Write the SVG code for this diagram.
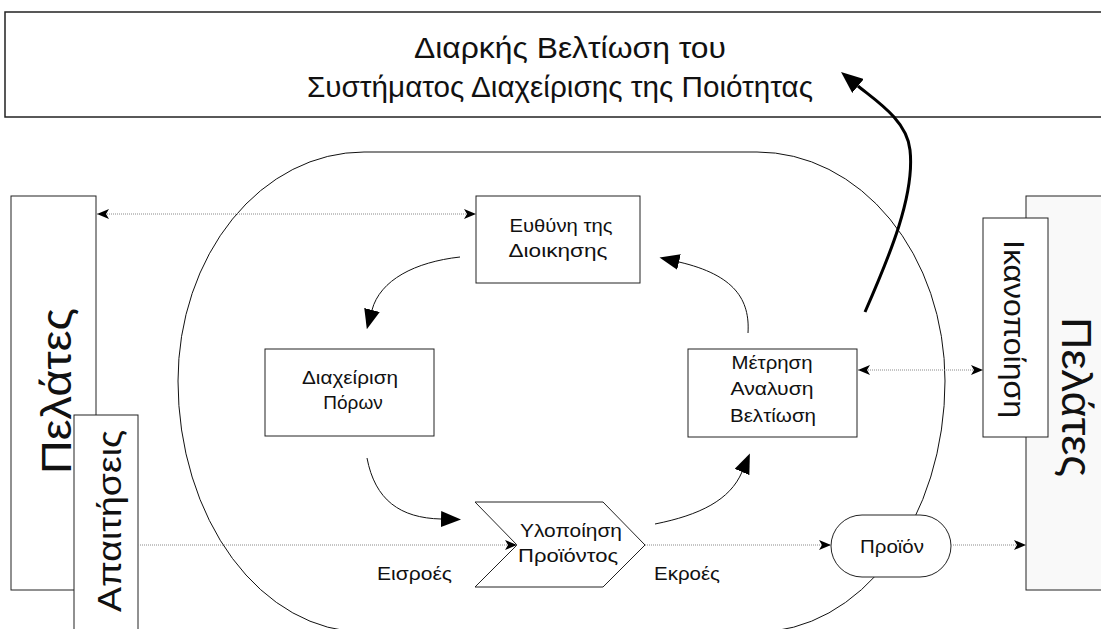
<svg xmlns="http://www.w3.org/2000/svg" width="1101" height="629" viewBox="0 0 1101 629">
  <defs>
    <style>
      text { font-family: "Liberation Sans", Arial, sans-serif; fill: #111; }
      .box { fill: #fff; stroke: #222; stroke-width: 1; }
      .dot { fill: none; stroke: #8a8a8a; stroke-width: 1; stroke-dasharray: 1 1; }
      .flow { fill: none; stroke: #111; stroke-width: 1; }
      .lbl { font-size: 19px; text-anchor: middle; }
    </style>
    <!-- small head for dotted links -->
    <marker id="headS" viewBox="0 0 12 10" refX="12" refY="5" markerWidth="12" markerHeight="10" markerUnits="userSpaceOnUse" orient="auto-start-reverse">
      <path d="M0,0 L12,5 L0,10 L3,5 Z" fill="#000"/>
    </marker>
    <!-- large filled head for process flow -->
    <marker id="headL" viewBox="0 0 20 16" refX="0" refY="8" markerWidth="20" markerHeight="16" markerUnits="userSpaceOnUse" orient="auto">
      <path d="M0,0 L20,8 L0,16 Z" fill="#000"/>
    </marker>
    <marker id="headT" viewBox="0 0 22 18" refX="0" refY="9" markerWidth="22" markerHeight="18" markerUnits="userSpaceOnUse" orient="auto">
      <path d="M0,0 L22,9 L0,18 Z" fill="#000"/>
    </marker>
  </defs>

  <rect width="1101" height="629" fill="#fff"/>

  <!-- continual improvement banner -->
  <g id="improvement">
    <rect x="5" y="12" width="1110" height="105" fill="#fff" stroke="#222" stroke-width="1.5"/>
    <text x="570" y="58" font-size="29" text-anchor="middle" textLength="312" lengthAdjust="spacingAndGlyphs">Διαρκής Βελτίωση του</text>
    <text x="560" y="97" font-size="29" text-anchor="middle" textLength="506" lengthAdjust="spacingAndGlyphs">Συστήματος Διαχείρισης της Ποιότητας</text>
  </g>

  <!-- quality management system boundary -->
  <g id="system">
    <path d="M364,152 H757 A188,229 0 0 1 945,381 A188,251 0 0 1 757,632 H364 A186,251 0 0 1 178,381 A186,229 0 0 1 364,152 Z" fill="none" stroke="#111" stroke-width="1"/>
  </g>

  <!-- customers (input side) -->
  <g id="customers-in">
    <rect class="box" x="11" y="196" width="85" height="394"/>
    <text transform="translate(71,391) rotate(-90)" font-size="42" text-anchor="middle" textLength="166" lengthAdjust="spacingAndGlyphs">Πελάτες</text>
  </g>
  <g id="requirements">
    <rect class="box" x="74" y="415" width="64" height="230"/>
    <text transform="translate(121,521) rotate(-90)" font-size="33" text-anchor="middle" textLength="182" lengthAdjust="spacingAndGlyphs">Απαιτήσεις</text>
  </g>

  <!-- customers (output side) -->
  <g id="customers-out">
    <rect x="1026" y="196" width="90" height="394" fill="#f9f9f9" stroke="#222" stroke-width="1"/>
    <text transform="translate(1062,397) rotate(90)" font-size="42" text-anchor="middle" textLength="160" lengthAdjust="spacingAndGlyphs">Πελάτες</text>
  </g>
  <g id="satisfaction">
    <rect class="box" x="983" y="218" width="65" height="219"/>
    <text transform="translate(1004,329) rotate(90)" font-size="29" text-anchor="middle" textLength="178" lengthAdjust="spacingAndGlyphs">Ικανοποίηση</text>
  </g>

  <!-- process nodes -->
  <g id="management">
    <rect class="box" x="476" y="196" width="164" height="87"/>
    <text class="lbl" x="561" y="232" textLength="103" lengthAdjust="spacingAndGlyphs">Ευθύνη της</text>
    <text class="lbl" x="558" y="257" textLength="99" lengthAdjust="spacingAndGlyphs">Διοικησης</text>
  </g>
  <g id="resources">
    <rect class="box" x="265" y="349" width="169" height="87"/>
    <text class="lbl" x="350" y="384" textLength="96" lengthAdjust="spacingAndGlyphs">Διαχείριση</text>
    <text class="lbl" x="353" y="409">Πόρων</text>
  </g>
  <g id="measurement">
    <rect class="box" x="688" y="349" width="169" height="88"/>
    <text class="lbl" x="772" y="369" textLength="81" lengthAdjust="spacingAndGlyphs">Μέτρηση</text>
    <text class="lbl" x="772" y="395" textLength="83" lengthAdjust="spacingAndGlyphs">Αναλυση</text>
    <text class="lbl" x="773" y="422" textLength="86" lengthAdjust="spacingAndGlyphs">Βελτίωση</text>
  </g>
  <g id="realization">
    <path class="box" d="M475,502 H603 L645,545 L603,587 H475 L517,545 Z"/>
    <text class="lbl" x="571" y="537" textLength="102" lengthAdjust="spacingAndGlyphs">Υλοποίηση</text>
    <text class="lbl" x="568" y="562" textLength="100" lengthAdjust="spacingAndGlyphs">Προϊόντος</text>
  </g>
  <g id="product">
    <rect class="box" x="831" y="515" width="120" height="62" rx="31" ry="31"/>
    <text class="lbl" x="892" y="553" textLength="64" lengthAdjust="spacingAndGlyphs">Προϊόν</text>
  </g>

  <!-- flow labels -->
  <g id="io-labels">
    <text x="377" y="580" font-size="19" textLength="75" lengthAdjust="spacingAndGlyphs">Εισροές</text>
    <text x="654" y="580" font-size="19" textLength="66" lengthAdjust="spacingAndGlyphs">Εκροές</text>
  </g>

  <!-- connectors -->
  <g id="connectors">
    <!-- dotted information links -->
    <path class="dot" d="M97,214 H476" marker-start="url(#headS)" marker-end="url(#headS)"/>
    <path class="dot" d="M858,370 H983" marker-start="url(#headS)" marker-end="url(#headS)"/>
    <path class="dot" d="M138,545 H517" marker-end="url(#headS)"/>
    <path class="dot" d="M645,545 H831" marker-end="url(#headS)"/>
    <path class="dot" d="M951,545 H1026" marker-end="url(#headS)"/>
    <!-- process cycle -->
    <path class="flow" d="M460,257 C415,262 380,280 372,310" marker-end="url(#headL)"/>
    <path class="flow" d="M367,458 C375,500 400,518 441,519" marker-end="url(#headL)"/>
    <path class="flow" d="M655,524 C700,515 730,500 742,472" marker-end="url(#headL)"/>
    <path class="flow" d="M748,333 C750,300 735,275 679,262" marker-end="url(#headL)"/>
    <!-- improvement feedback -->
    <path d="M865,312 C890,255 915,195 910,150 C907,120 875,100 858,86" fill="none" stroke="#000" stroke-width="3" marker-end="url(#headT)"/>
  </g>
</svg>
